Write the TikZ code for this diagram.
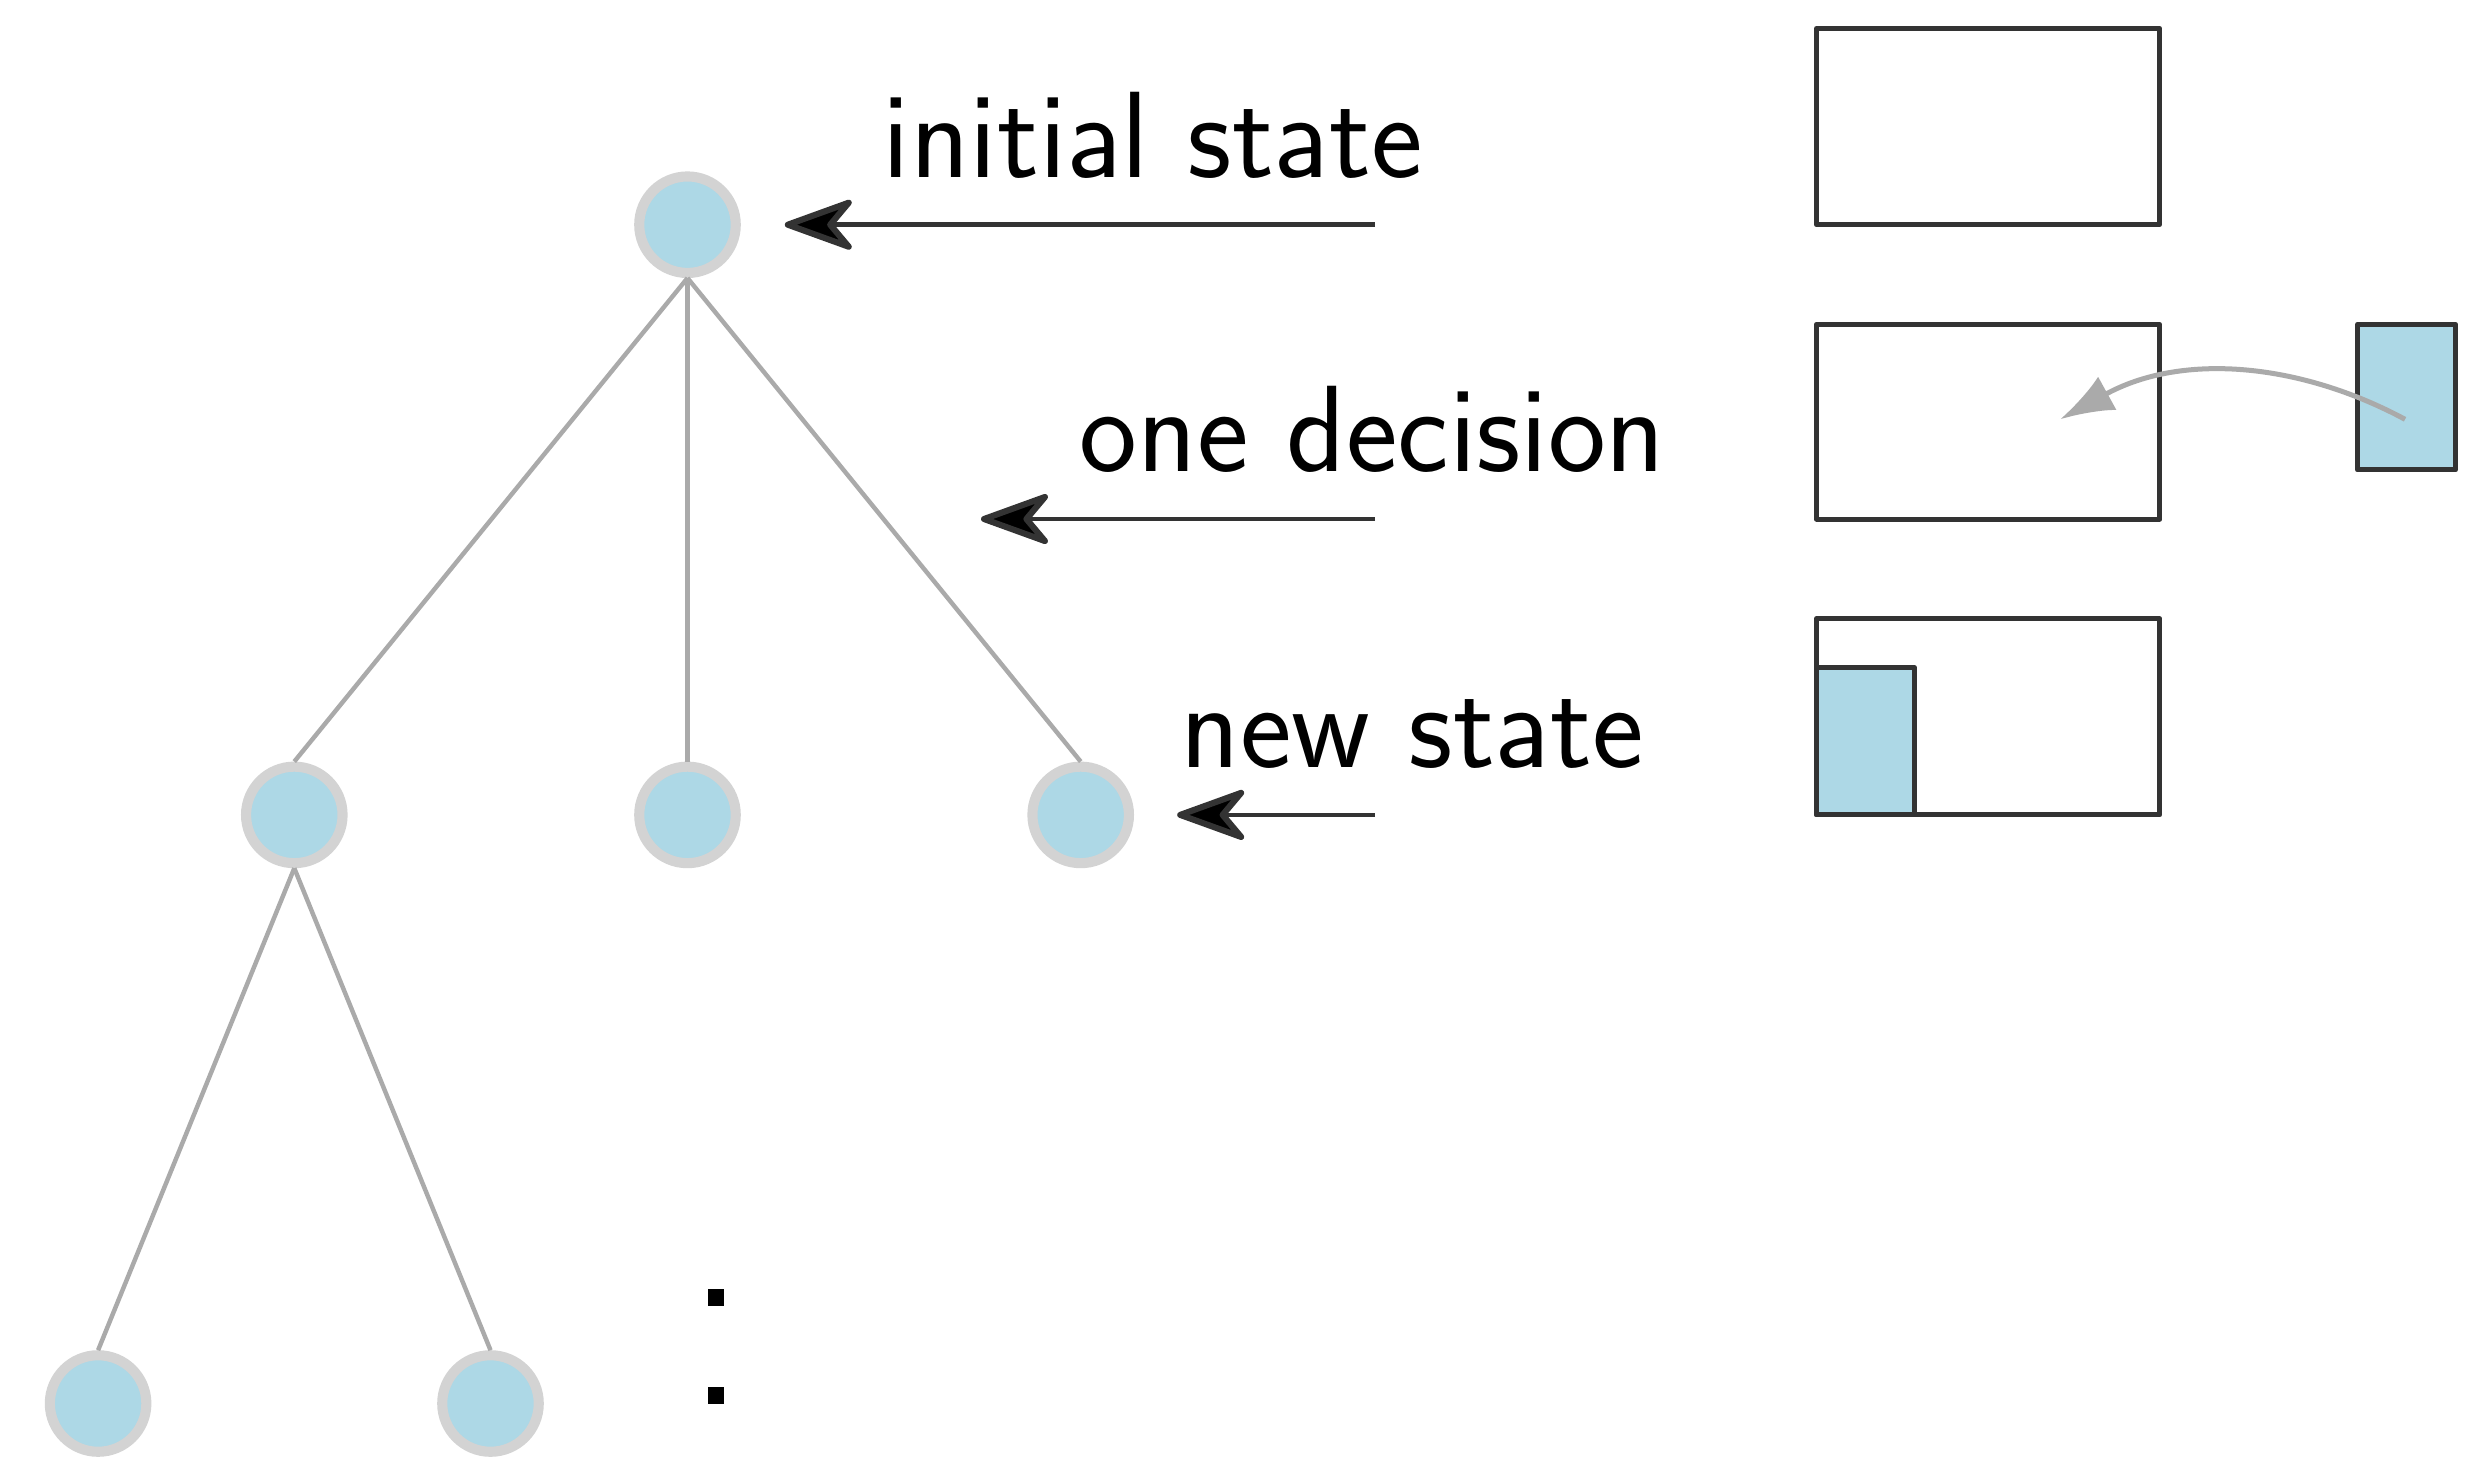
\documentclass[tikz,border=0pt]{standalone}
\usetikzlibrary{arrows.meta}
\definecolor{nodefill}{HTML}{ADD8E6}
\definecolor{nodeborder}{HTML}{D3D3D3}
\definecolor{edgegray}{HTML}{AAAAAA}
\definecolor{darkline}{HTML}{333333}
\tikzset{
  treenode/.style={circle, draw=nodeborder, fill=nodefill, line width=0.64mm, minimum size=6.1mm, inner sep=0pt},
  treeedge/.style={draw=edgegray, line width=0.8pt},
  pointer/.style={draw=darkline, line width=0.85pt, line join=round,
    -{Stealth[length=5.0mm, width=3.6mm, inset=1.5mm, fill=black, line width=1.1pt, round]}},
  lbl/.style={font=\sffamily\fontsize{22.1}{26}\selectfont, inner sep=0pt, anchor=base},
  slot/.style={draw=darkline, line width=0.9pt, line join=round},
  piece/.style={draw=darkline, fill=nodefill, line width=0.9pt, line join=round},
  move/.style={draw=edgegray, line width=0.9pt, -{Latex[length=3.4mm, width=2.4mm]}},
  dotmark/.style={fill=black}
}
\begin{document}
\begin{tikzpicture}[x=0.1mm, y=-0.1mm]
\useasboundingbox (0,0) rectangle (1568,921.5);
% tree
\node[treenode] (r) at (434.5,142) {};
\node[treenode] (a) at (186,515) {};
\node[treenode] (b) at (434.5,515) {};
\node[treenode] (c) at (683,515) {};
\node[treenode] (d) at (62,887) {};
\node[treenode] (e) at (310,887) {};
\draw[treeedge] (r.south) -- (a.north);
\draw[treeedge] (r.south) -- (b.north);
\draw[treeedge] (r.south) -- (c.north);
\draw[treeedge] (a.south) -- (d.north);
\draw[treeedge] (a.south) -- (e.north);
% dots
\fill[dotmark] (447.6,814.7) rectangle (457.7,825.5);
\fill[dotmark] (447.6,876.6) rectangle (457.7,887.3);
% labels and pointers
\node[lbl] (t1) at (728.5,112) {initial state};
\node[lbl] (t2) at (867.5,298) {one decision};
\node[lbl] (t3) at (892.5,485) {new state};
\coordinate (s1) at (869,142);
\coordinate (s2) at (869,328);
\coordinate (s3) at (869,515);
\coordinate (e1) at (496,142);
\coordinate (e2) at (620,328);
\coordinate (e3) at (744,515);
\draw[pointer] (s1) -- (e1);
\draw[pointer] (s2) -- (e2);
\draw[pointer] (s3) -- (e3);
% boxes
\draw[slot] (1148,18) rectangle (1365,142);
\draw[slot] (1148,205) rectangle (1365,328);
\draw[slot] (1148,391) rectangle (1365,515);
\draw[piece] (1148,422) rectangle (1210,515);
\node[piece, inner sep=0pt, minimum width=6.2mm, minimum height=9.2mm] (p) at (1521,251) {};
\coordinate (ps) at (1520,265);
\coordinate (pt) at (1302,265);
\draw[move] (ps) .. controls (1455,230) and (1380,222) .. (pt);
\end{tikzpicture}
\end{document}
